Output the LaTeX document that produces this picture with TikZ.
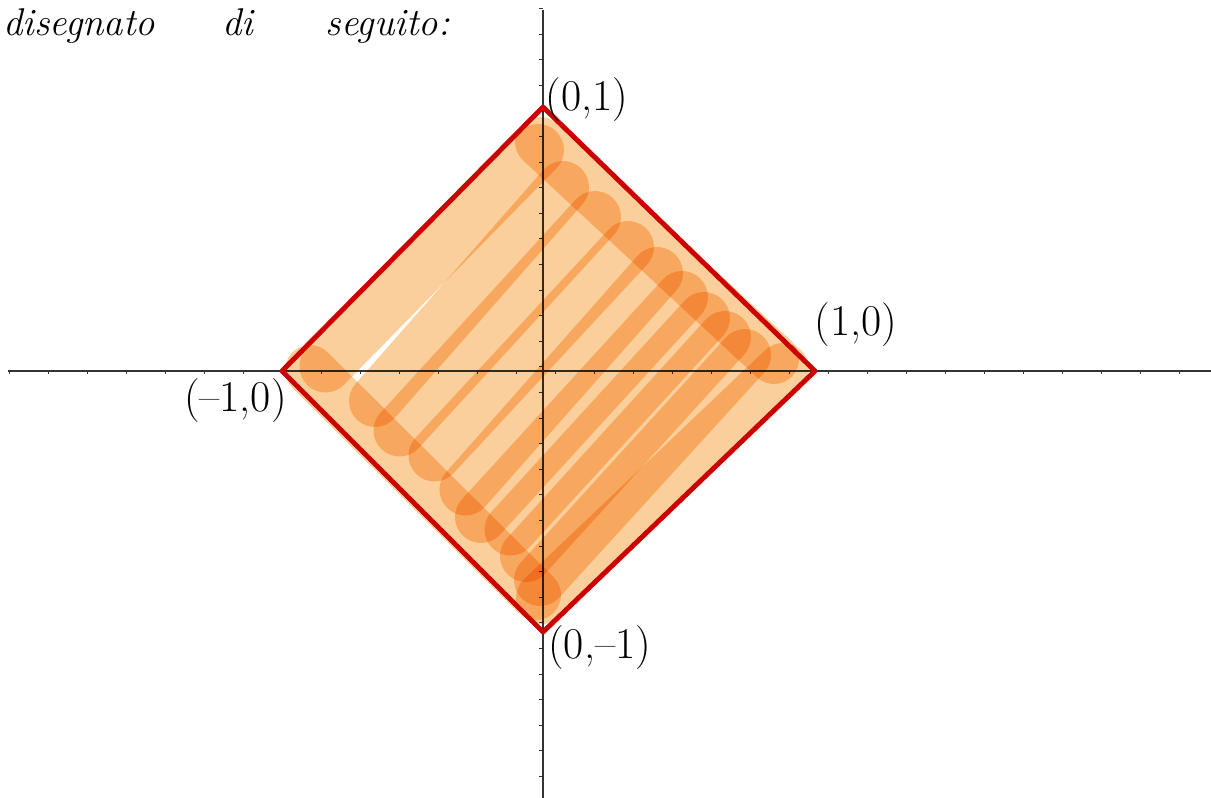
\documentclass[tikz,border=0pt]{standalone}
\usepackage{tikz}
\definecolor{hlorange}{RGB}{251,207,155}
\definecolor{edgered}{RGB}{204,0,0}
\definecolor{axisgray}{RGB}{51,51,51}

\begin{document}
\begin{tikzpicture}[x=0.02cm, y=-0.02cm,
    axis/.style={axisgray, line width=0.75pt},
    tick/.style={axisgray, line width=0.5pt},
    hl/.style={hlorange, line width=1.04cm, line cap=round},
    band/.style={hlorange, line width=1cm, line cap=round},
    rim/.style={edgered, line width=2.8pt, line join=round, line cap=round},
    lbl/.style={font=\fontsize{25}{30}\selectfont, inner sep=0pt}]
    \useasboundingbox (0,0) rectangle (1211,798);

    % Axes
    \draw[axis] (8,371) -- (1211,371);
    \draw[axis] (543,10) -- (543,798);
    \foreach \i in {0,...,30}
        \draw[tick] ({9+39*\i},371) -- ({9+39*\i},374);
    \foreach \i in {0,...,30}
        \draw[tick] (539,{8.5+25.6*\i}) -- (543,{8.5+25.6*\i});

    % Highlighter strokes (ends)
    \foreach \i/\a/\b/\c/\d in {1/325.5/366.5/538/150, 2/375/401/563/187,
        3/399.5/430.5/595/217, 4/434.5/455.5/628/247, 5/465.5/489.5/657/273,
        6/481/517/682/297, 7/510.5/529.5/704/318, 8/526/556/725/337,
        9/540/580/745/355, 10/542/598/783/369}
    {
        \coordinate (sw\i) at (\a,\b);
        \coordinate (ne\i) at (\c,\d);
    }
    \coordinate (neband1) at (540,142);
    \coordinate (neband2) at (774,359);
    \coordinate (swband1) at (310,370);
    \coordinate (swband2) at (536,595);

    \begin{scope}[blend mode=multiply]
        \draw[band] (neband1) -- (neband2);
        \draw[band] (swband1) -- (swband2);
        \foreach \i in {1,...,10}
            \draw[hl] (sw\i) -- (ne\i);
    \end{scope}

    % Square |x|+|y|=1
    \coordinate (vl) at (282,371);
    \coordinate (vt) at (543,107);
    \coordinate (vr) at (815,371);
    \coordinate (vb) at (543,632);
    \draw[rim] (vl) -- (vt) -- (vr) -- (vb) -- cycle;

    % Vertex labels
    \node[lbl] (p01) at (587,100) {(0,1)};
    \node[lbl] (p10) at (856,325) {(1,0)};
    \node[lbl, anchor=east] (pm10) at (287,401) {(--1,0)};
    \node[lbl, anchor=west] (p0m1) at (548,648) {(0,--1)};

    % Text
    \node[anchor=base west, inner sep=0pt, font=\fontsize{22}{26}\selectfont\itshape]
        (title) at (3,35) {disegnato\hspace{1.34cm}di\hspace{1.46cm}seguito:};
\end{tikzpicture}
\end{document}
